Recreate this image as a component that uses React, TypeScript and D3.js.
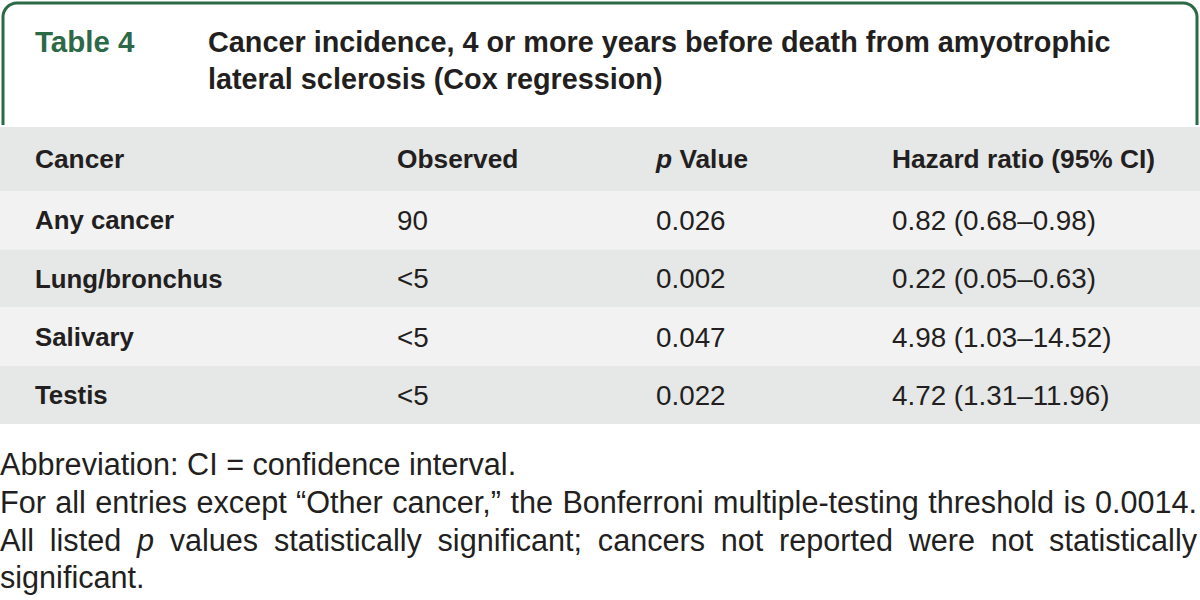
import React from "react";
import * as d3 from "d3";

const tableLabel = "Table 4";
const titleLines = [
  "Cancer incidence, 4 or more years before death from amyotrophic",
  "lateral sclerosis (Cox regression)",
];
const columns = ["Cancer", "Observed", "p Value", "Hazard ratio (95% CI)"];
const cancers = ["Any cancer", "Lung/bronchus", "Salivary", "Testis"];
const observed = ["90", "<5", "<5", "<5"];
const pValues = ["0.026", "0.002", "0.047", "0.022"];
const hazardRatios = [
  "0.82 (0.68–0.98)",
  "0.22 (0.05–0.63)",
  "4.98 (1.03–14.52)",
  "4.72 (1.31–11.96)",
];
const footnotes = [
  { text: "Abbreviation: CI = confidence interval.", justify: false },
  {
    text: "For all entries except “Other cancer,” the Bonferroni multiple-testing threshold is 0.0014.",
    justify: true,
  },
  {
    text: "All listed *p values statistically significant; cancers not reported were not statistically",
    justify: true,
  },
  { text: "significant.", justify: false },
];

const W = 1200;
const H = 600;
const GREEN = "#2c6a47";
const TEXT = "#231f20";
const FONT = "'Liberation Sans', Arial, sans-serif";
const TITLE_SIZE = 28.8;
const LABEL_SIZE = 29.5;
const HEAD_SIZE = 26.3;
const ROWHEAD_SIZE = 25.8;
const CELL_SIZE = 27.8;
const NOTE_SIZE = 30.6;
const NOTE_RIGHT = 1197;

let canvasCtx: CanvasRenderingContext2D | null = null;
function measure(text: string, size: number, italic = false): number {
  if (!canvasCtx) canvasCtx = document.createElement("canvas").getContext("2d");
  if (!canvasCtx) return text.length * size * 0.5;
  canvasCtx.font = `${italic ? "italic " : ""}${size}px ${FONT}`;
  return canvasCtx.measureText(text).width;
}

export default function App() {
  const colX = d3.scaleOrdinal<string, number>().domain(columns).range([35, 397, 656, 892]);
  const headerTop = 127;
  const headerBottom = 191;
  const rowY = d3.scaleBand<string>().domain(cancers).range([headerBottom, 424]).padding(0);
  const noteY = d3.scaleLinear().domain([0, 1]).range([475, 512.8]);

  const rowValues = [cancers, observed, pValues, hazardRatios];

  const renderNote = (n: { text: string; justify: boolean }, i: number) => {
    const y = noteY(i);
    const words = n.text.split(" ");
    if (!n.justify) {
      return (
        <text key={i} x={0} y={y} fontSize={NOTE_SIZE} fill={TEXT} fontFamily={FONT}>
          {words.map((w, k) => (
            <tspan key={k} fontStyle={w.startsWith("*") ? "italic" : "normal"}>
              {(k ? " " : "") + w.replace("*", "")}
            </tspan>
          ))}
        </text>
      );
    }
    const widths = words.map((w) => measure(w.replace("*", ""), NOTE_SIZE, w.startsWith("*")));
    const total = d3.sum(widths);
    const gap = (NOTE_RIGHT - total) / (words.length - 1);
    let x = 0;
    return (
      <g key={i}>
        {words.map((w, k) => {
          const el = (
            <text
              key={k}
              x={x}
              y={y}
              fontSize={NOTE_SIZE}
              fill={TEXT}
              fontFamily={FONT}
              fontStyle={w.startsWith("*") ? "italic" : "normal"}
            >
              {w.replace("*", "")}
            </text>
          );
          x += widths[k] + gap;
          return el;
        })}
      </g>
    );
  };

  return (
    <svg
      width={W}
      height={H}
      viewBox={`0 0 ${W} ${H}`}
      style={{ position: "absolute", left: 0, top: 0, background: "#fff" }}
    >
      <rect x={0} y={0} width={W} height={H} fill="#fff" />
      <path
        d={`M3,${headerTop - 2} L3,17 A14,14 0 0 1 17,3 L1183,3 A14,14 0 0 1 1197,17 L1197,${headerTop - 2}`}
        fill="none"
        stroke={GREEN}
        strokeWidth={3}
      />
      <text x={35} y={52} fontSize={LABEL_SIZE} fontWeight="bold" fill={GREEN} fontFamily={FONT}>
        {tableLabel}
      </text>
      {titleLines.map((t, i) => (
        <text
          key={i}
          x={208}
          y={52 + i * 36.5}
          fontSize={TITLE_SIZE}
          fontWeight="bold"
          fill={TEXT}
          fontFamily={FONT}
        >
          {t}
        </text>
      ))}

      <rect x={0} y={headerTop} width={W} height={headerBottom - headerTop} fill="#e6e7e7" />
      {cancers.map((c, i) => (
        <rect
          key={c}
          x={0}
          y={rowY(c)}
          width={W}
          height={rowY.bandwidth()}
          fill={i % 2 === 0 ? "#f2f2f2" : "#e6e7e7"}
        />
      ))}

      {columns.map((col) => (
        <text
          key={col}
          x={colX(col)}
          y={(headerTop + headerBottom) / 2}
          dy="0.36em"
          fontSize={HEAD_SIZE}
          fontWeight="bold"
          fill={TEXT}
          fontFamily={FONT}
        >
          {col.startsWith("p ") ? (
            <>
              <tspan fontStyle="italic">p</tspan>
              {col.slice(1)}
            </>
          ) : (
            col
          )}
        </text>
      ))}

      {cancers.map((c, r) =>
        columns.map((col, ci) => (
          <text
            key={c + col}
            x={colX(col)}
            y={(rowY(c) ?? 0) + rowY.bandwidth() / 2}
            dy="0.36em"
            fontSize={ci === 0 ? ROWHEAD_SIZE : CELL_SIZE}
            fontWeight={ci === 0 ? "bold" : "normal"}
            fill={TEXT}
            fontFamily={FONT}
          >
            {rowValues[ci][r]}
          </text>
        ))
      )}

      {footnotes.map(renderNote)}
    </svg>
  );
}
